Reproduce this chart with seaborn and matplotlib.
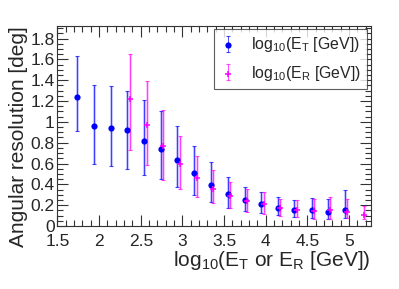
import matplotlib
matplotlib.use("Agg")
import matplotlib.pyplot as plt
from matplotlib.ticker import MultipleLocator, FuncFormatter
from matplotlib.legend_handler import HandlerTuple
import seaborn as sns
import pandas as pd
import numpy as np

# true energy (blue) and reconstructed energy (magenta)
et_x = [1.74, 1.94, 2.14, 2.34, 2.54, 2.74, 2.94, 3.14, 3.34, 3.545, 3.745, 3.945, 4.145, 4.345, 4.55, 4.75, 4.95]
et_y = [1.237, 0.96, 0.945, 0.926, 0.817, 0.743, 0.638, 0.51, 0.397, 0.308, 0.253, 0.208, 0.176, 0.157, 0.151, 0.135, 0.157]
et_hi = [1.635, 1.353, 1.343, 1.298, 1.21, 1.106, 0.962, 0.772, 0.615, 0.468, 0.372, 0.324, 0.279, 0.25, 0.266, 0.257, 0.346]
et_lo = [0.913, 0.596, 0.58, 0.545, 0.487, 0.449, 0.372, 0.295, 0.23, 0.176, 0.147, 0.122, 0.103, 0.086, 0.077, 0.07, 0.077]

er_x = [2.367, 2.569, 2.769, 2.974, 3.17, 3.37, 3.572, 3.773, 3.974, 4.175, 4.376, 4.576, 4.777, 4.978, 5.178]
er_y = [1.218, 0.974, 0.766, 0.593, 0.459, 0.356, 0.288, 0.237, 0.208, 0.17, 0.151, 0.147, 0.154, 0.135, 0.109]
er_hi = [1.65, 1.39, 1.112, 0.865, 0.673, 0.536, 0.426, 0.353, 0.324, 0.257, 0.25, 0.257, 0.282, 0.263, 0.195]
er_lo = [0.73, 0.59, 0.442, 0.353, 0.276, 0.218, 0.17, 0.138, 0.115, 0.096, 0.083, 0.07, 0.07, 0.08, 0.064]

labels = [r"log$_{10}$(E$_{T}$ [GeV])", r"log$_{10}$(E$_{R}$ [GeV])"]

sns.set_style("ticks")
plt.rcParams["font.family"] = ["Liberation Sans", "DejaVu Sans"]
plt.rcParams["mathtext.default"] = "regular"

BLUE = "#0000ff"
MAGENTA = "#ff00ff"

fig = plt.figure(figsize=(3.99, 2.89), dpi=100)
ax = fig.add_axes([0.144, 0.218, 0.786, 0.692])


def draw_series(x, y, lo, hi, color, marker, size):
    y = np.array(y)
    yerr = [y - np.array(lo), np.array(hi) - y]
    # light band + thin line, like the reference
    ax.errorbar(x, y, yerr=yerr, fmt="none", ecolor=color, elinewidth=2.2,
                alpha=0.22, capsize=0)
    bars = ax.errorbar(x, y, yerr=yerr, fmt="none", ecolor=color, elinewidth=0.7,
                       alpha=0.7, capsize=1.3, capthick=0.8)
    df = pd.DataFrame({"x": x, "y": y})
    sns.scatterplot(data=df, x="x", y="y", color=color, marker=marker, s=size,
                    linewidth=1.1 if marker == "+" else 0, edgecolor=color,
                    ax=ax, legend=False, zorder=3)
    return bars, ax.collections[-1]


h_et = draw_series(et_x, et_y, et_lo, et_hi, BLUE, "o", 20)
h_er = draw_series(er_x, er_y, er_lo, er_hi, MAGENTA, "+", 20)

ax.set_xlim(1.5, 5.264)
ax.set_ylim(0, 1.92)
ax.xaxis.set_major_locator(MultipleLocator(0.5))
ax.xaxis.set_minor_locator(MultipleLocator(0.1))
ax.yaxis.set_major_locator(MultipleLocator(0.2))
ax.yaxis.set_minor_locator(MultipleLocator(0.05))
ax.xaxis.set_major_formatter(FuncFormatter(lambda v, p: "%g" % round(v, 2)))
ax.yaxis.set_major_formatter(FuncFormatter(lambda v, p: "%g" % round(v, 2)))
ax.tick_params(which="both", direction="in", top=True, right=True, width=0.8, color="#333333")
ax.tick_params(which="major", length=8, labelsize=12.5)
ax.tick_params(which="minor", length=4)
ax.tick_params(axis="x", pad=6)
ax.tick_params(axis="y", pad=2)
for s in ax.spines.values():
    s.set_linewidth(0.8)
    s.set_color("#333333")

ax.set_xlabel(r"log$_{10}$(E$_{T}$ or E$_{R}$ [GeV])", fontsize=15, loc="right", labelpad=0)
ax.set_ylabel("Angular resolution [deg]", fontsize=15, loc="top", labelpad=2)

leg = ax.legend([h_et, h_er], labels,
                handler_map={tuple: HandlerTuple(ndivide=1)},
                loc="upper right", bbox_to_anchor=(0.987, 0.985),
                fontsize=11.4, frameon=True, fancybox=False, borderpad=0.4,
                handlelength=1.0, handletextpad=0.9, labelspacing=0.6,
                borderaxespad=0)
leg.get_frame().set_edgecolor("#333333")
leg.get_frame().set_linewidth(0.8)

fig.savefig("out.png", dpi=100)
